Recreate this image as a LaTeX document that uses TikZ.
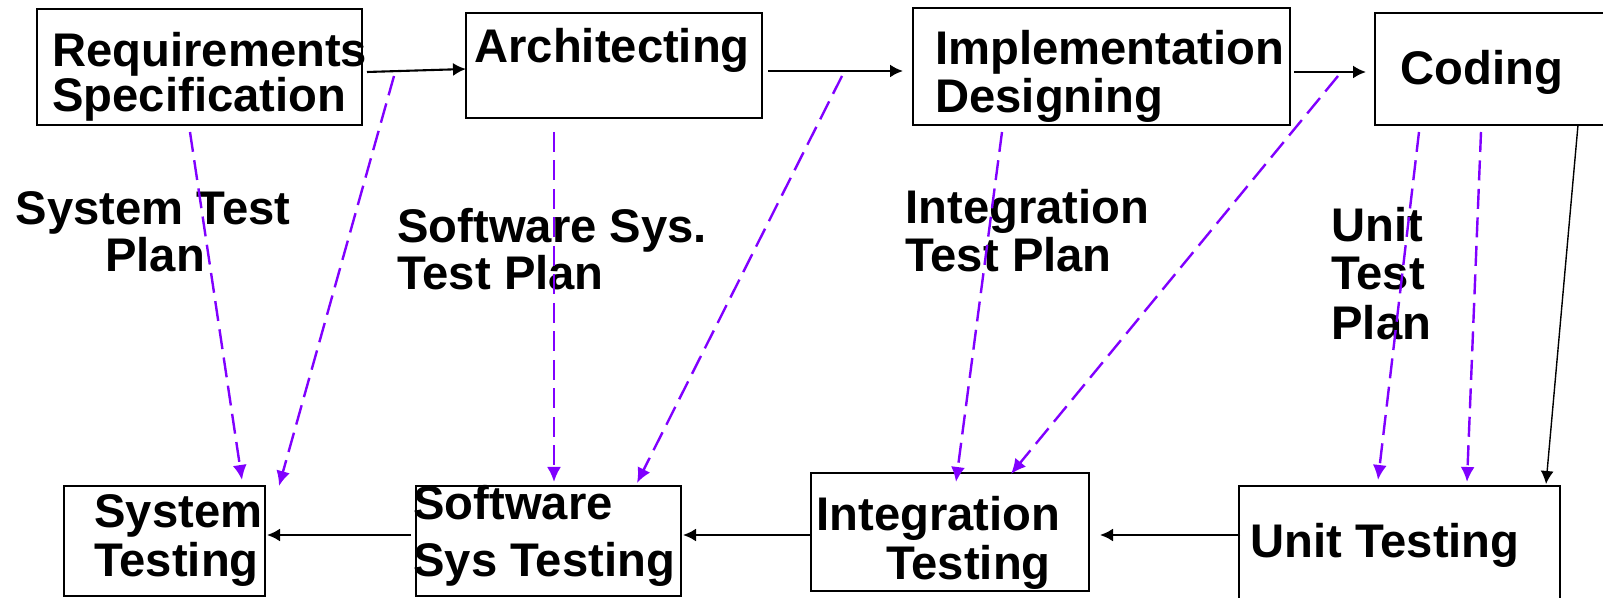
\documentclass[tikz,border=0pt]{standalone}
\usepackage{fontspec}
\setmainfont{Liberation Sans}
\usetikzlibrary{arrows.meta,fit}
\definecolor{planviolet}{RGB}{128,0,255}
\tikzset{
  box/.style={draw=black, line width=1.3pt, inner sep=0pt},
  lbl/.style={anchor=base west, inner sep=0pt, font=\bfseries\fontsize{23.6pt}{23.6pt}\selectfont},
  clbl/.style={lbl, anchor=base},
  flow/.style={draw=black, line width=1.05pt, -{Latex[length=6.5pt,width=6.5pt]}},
  thinflow/.style={flow, line width=0.7pt},
  planarrow/.style={draw=planviolet, line width=1.2pt, dash pattern=on 10pt off 4.25pt,
                    -{Latex[length=7.5pt,width=7pt]}},
}
\begin{document}
\begin{tikzpicture}[x=0.5pt,y=-0.5pt]
\useasboundingbox (0,0) rectangle (1603,598);

% development phases (top row)
\node[box, fit={(37,9) (362,125)}]    (req)  {};
\node[box, fit={(466,13) (762,118)}]  (arch) {};
\node[box, fit={(913,8) (1290,125)}]  (impl) {};
\node[box, fit={(1375,13) (1615,125)}] (cod)  {};

% testing phases (bottom row)
\node[box, fit={(64,486) (265,596)}]   (sys)   {};
\node[box, fit={(416,486) (681,596)}]  (soft)  {};
\node[box, fit={(811,473) (1089,591)}] (integ) {};
\node[box, fit={(1239,486) (1560,610)}] (unit) {};

% box texts
\node[lbl] (reqA)   at (52,67)    {Requirements};
\node[lbl] (reqB)   at (52,112)   {Specification};
\node[lbl] (archA)  at (474,63)   {Architecting};
\node[lbl] (implA)  at (935,65)   {Implementation};
\node[lbl] (implB)  at (935,113)  {Designing};
\node[lbl] (codA)   at (1400,85)  {Coding};
\node[lbl] (sysA)   at (94,528)   {System};
\node[lbl] (sysB)   at (94,577)   {Testing};
\node[lbl] (softA)  at (413,520)  {Software};
\node[lbl] (softB)  at (413,577)  {Sys Testing};
\node[lbl] (integA) at (816,531)  {Integration};
\node[lbl] (integB) at (886,580)  {Testing};
\node[lbl] (unitA)  at (1250,558) {Unit Testing};

% test plan labels
\node[clbl] (stpA) at (153,225)  {System Test};
\node[clbl] (stpB) at (155,272)  {Plan};
\node[lbl]  (sspA) at (397,243)  {Software Sys.};
\node[lbl]  (sspB) at (397,290)  {Test Plan};
\node[lbl]  (itpA) at (905,224)  {Integration};
\node[lbl]  (itpB) at (905,272)  {Test Plan};
\node[lbl]  (utpA) at (1331,242) {Unit};
\node[lbl]  (utpB) at (1331,290) {Test};
\node[lbl]  (utpC) at (1331,340) {Plan};

% connector end points
\coordinate (reqOut)   at (367,72);   \coordinate (archIn)   at (466,69);
\coordinate (archOut)  at (768,71);   \coordinate (implIn)   at (903,71);
\coordinate (implOut)  at (1294,72);  \coordinate (codIn)    at (1366,72);
\coordinate (codOut)   at (1578,125); \coordinate (unitTop)  at (1546,484);
\coordinate (unitOut)  at (1240,535); \coordinate (integIn)  at (1100,535);
\coordinate (integOut) at (811,535);  \coordinate (softIn)   at (683,535);
\coordinate (softOut)  at (411,535);  \coordinate (sysIn)    at (267,535);

\coordinate (p1s) at (190,132);  \coordinate (p1e) at (242,480);
\coordinate (p2s) at (394,76);   \coordinate (p2e) at (279,486);
\coordinate (p3s) at (554,132);  \coordinate (p3e) at (554,482);
\coordinate (p4s) at (842,76);   \coordinate (p4e) at (637,483);
\coordinate (p5s) at (1002,132); \coordinate (p5e) at (956,482);
\coordinate (p6s) at (1338,76);  \coordinate (p6e) at (1011,474);
\coordinate (p7s) at (1419,132); \coordinate (p7e) at (1378,480);
\coordinate (p8s) at (1481,132); \coordinate (p8e) at (1467,482);

% phase flow
\draw[flow] (reqOut) -- (archIn);
\draw[flow] (archOut) -- (implIn);
\draw[flow] (implOut) -- (codIn);
\draw[thinflow] (codOut) -- (unitTop);
\draw[flow] (unitOut) -- (integIn);
\draw[flow] (integOut) -- (softIn);
\draw[flow] (softOut) -- (sysIn);

% test plan links
\draw[planarrow] (p1s) -- (p1e);
\draw[planarrow] (p2s) -- (p2e);
\draw[planarrow] (p3s) -- (p3e);
\draw[planarrow] (p4s) -- (p4e);
\draw[planarrow] (p5s) -- (p5e);
\draw[planarrow] (p6s) -- (p6e);
\draw[planarrow] (p7s) -- (p7e);
\draw[planarrow] (p8s) -- (p8e);
\end{tikzpicture}
\end{document}
